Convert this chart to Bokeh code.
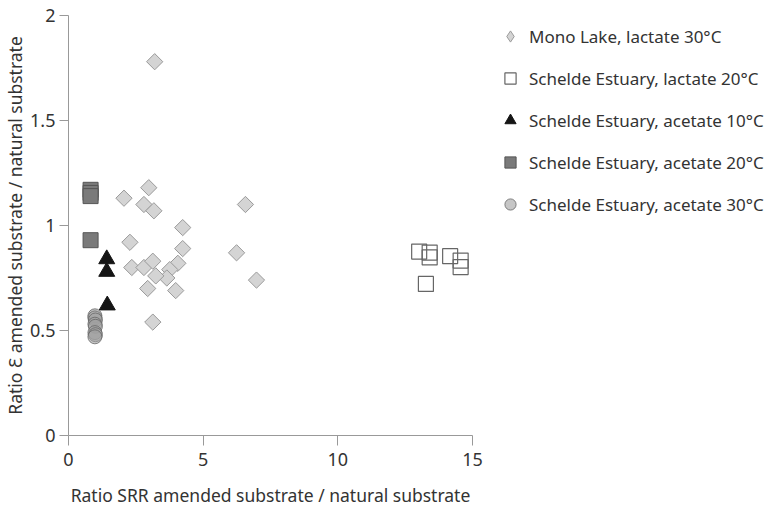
from bokeh.plotting import figure
from bokeh.models import Legend, LegendItem, Range1d, FixedTicker, NumeralTickFormatter
from bokeh.embed import file_html
from bokeh.resources import INLINE
import math

# ---- data ----
mono_x = [3.20, 2.06, 2.98, 2.80, 3.17, 4.24, 6.57, 2.28, 4.24, 6.24, 2.35,
          2.80, 3.13, 4.06, 3.76, 3.65, 3.24, 2.94, 3.98, 3.13, 6.98]
mono_y = [1.78, 1.13, 1.18, 1.10, 1.07, 0.99, 1.10, 0.92, 0.89, 0.87, 0.80,
          0.80, 0.83, 0.82, 0.79, 0.75, 0.76, 0.70, 0.69, 0.54, 0.74]

lac20_x = [13.02, 13.41, 13.41, 14.17, 14.56, 14.56, 13.27]
lac20_y = [0.876, 0.871, 0.848, 0.854, 0.833, 0.802, 0.722]

ac10_x = [1.42, 1.42, 1.44]
ac10_y = [0.84, 0.78, 0.62]

ac20_x = [0.82, 0.82, 0.82, 0.82]
ac20_y = [1.17, 1.155, 1.14, 0.93]

ac30_x = [0.98, 0.98, 1.00, 0.98, 1.00, 0.98, 1.00, 0.98]
ac30_y = [0.57, 0.56, 0.55, 0.53, 0.52, 0.49, 0.48, 0.47]

labels = ["Mono Lake, lactate 30°C",
          "Schelde Estuary, lactate 20°C",
          "Schelde Estuary, acetate 10°C",
          "Schelde Estuary, acetate 20°C",
          "Schelde Estuary, acetate 30°C"]

x_ticks = [0, 5, 10, 15]
y_ticks = [0, 0.5, 1, 1.5, 2]

FONT = "Noto Sans"

p = figure(frame_width=404, frame_height=420,
           x_range=Range1d(0, 15), y_range=Range1d(0, 2),
           output_backend="svg", toolbar_location=None,
           min_border_left=60, min_border_top=15, min_border_bottom=62,
           min_border_right=295)
p.outline_line_color = None
p.grid.visible = False
p.background_fill_color = "white"

r_mono = p.scatter(mono_x, mono_y, marker="square", size=11.5, angle=math.pi / 4,
                   fill_color="#d4d4d4", line_color="#9a9a9a", line_width=1)
# legend swatch for the diamonds (legend swatches ignore the marker angle)
r_mono_key = p.scatter([float("nan")], [float("nan")], marker="diamond",
                       fill_color="#d4d4d4", line_color="#9a9a9a", line_width=1)
r_lac = p.scatter(lac20_x, lac20_y, marker="square", size=15,
                  fill_color=None, line_color="#666666", line_width=1.2)
r_ac10 = p.scatter(ac10_x, ac10_y, marker="triangle", size=16,
                   fill_color="#151515", line_color="#151515")
r_ac20 = p.scatter(ac20_x, ac20_y, marker="square", size=15,
                   fill_color="#7a7a7a", line_color="#555555", line_width=1)
r_ac30 = p.scatter(ac30_x, ac30_y, marker="circle", size=14,
                   fill_color="#a0a0a0", fill_alpha=0.6,
                   line_color="#666666", line_alpha=0.8, line_width=1)

p.xaxis.ticker = FixedTicker(ticks=x_ticks)
p.yaxis.ticker = FixedTicker(ticks=y_ticks)
p.yaxis.formatter = NumeralTickFormatter(format="0.[0]")
p.xaxis.formatter = NumeralTickFormatter(format="0")

p.xaxis.axis_label = "Ratio SRR amended substrate / natural substrate"
p.yaxis.axis_label = "Ratio Ɛ amended substrate / natural substrate"

for ax in (p.xaxis[0], p.yaxis[0]):
    ax.axis_line_color = "#999999"
    ax.axis_line_width = 1
    ax.major_tick_line_color = "#999999"
    ax.major_tick_out = 10
    ax.major_tick_in = 0
    ax.minor_tick_line_color = None
    ax.major_label_text_font = FONT
    ax.major_label_text_font_size = "18px"
    ax.major_label_text_color = "#333333"
    ax.axis_label_text_font = FONT
    ax.axis_label_text_font_size = "17.5px"
    ax.axis_label_text_font_style = "normal"
    ax.axis_label_text_color = "#333333"

p.xaxis.major_label_standoff = 7
p.xaxis.axis_label_standoff = 14
p.yaxis.major_tick_out = 9
p.yaxis.major_label_standoff = 4
p.yaxis.axis_label_standoff = 0

legend = Legend(items=[LegendItem(label=labels[0], renderers=[r_mono_key]),
                       LegendItem(label=labels[1], renderers=[r_lac]),
                       LegendItem(label=labels[2], renderers=[r_ac10]),
                       LegendItem(label=labels[3], renderers=[r_ac20]),
                       LegendItem(label=labels[4], renderers=[r_ac30])],
                location=(24, 217))
legend.border_line_color = None
legend.background_fill_alpha = 0
legend.padding = 0
legend.margin = 0
legend.spacing = 14
legend.glyph_width = 28
legend.glyph_height = 28
legend.label_height = 28
legend.label_standoff = 5
legend.label_text_font = FONT
legend.label_text_font_size = "17px"
legend.label_text_color = "#333333"
p.add_layout(legend, "right")

open("out.html", "w").write(file_html(p, INLINE))
